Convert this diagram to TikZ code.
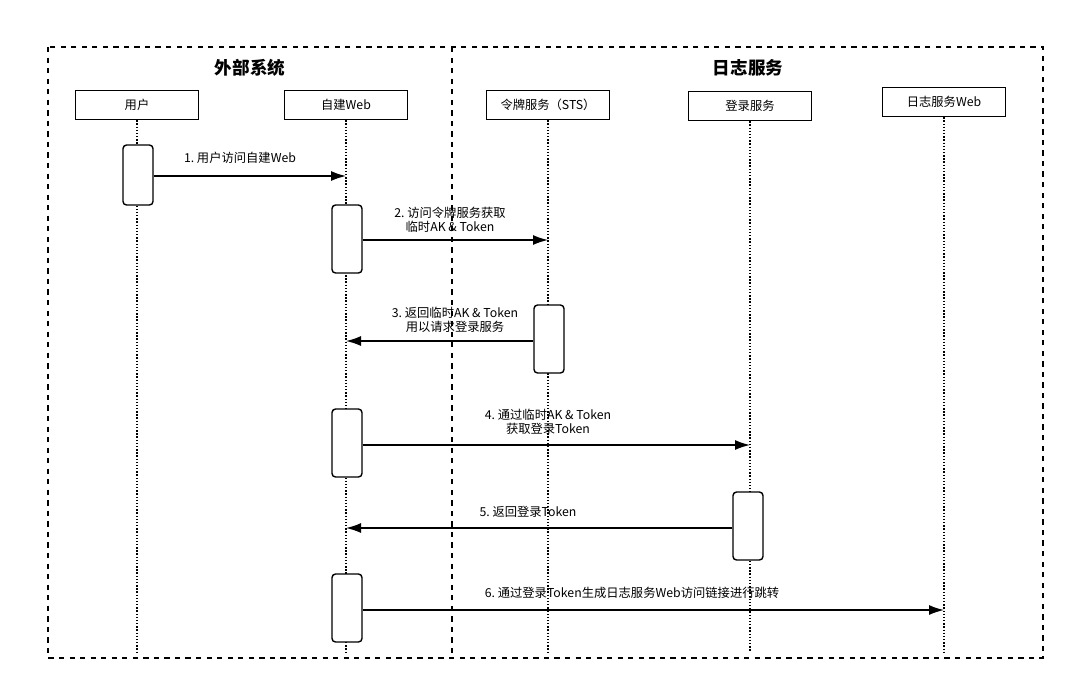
\documentclass[tikz,border=0pt]{standalone}
\usepackage{fontspec}
\setmainfont{Noto Sans CJK SC}
\newfontfamily\cjk{Noto Sans CJK SC}
\usetikzlibrary{arrows.meta,positioning}
\tikzset{
  head/.style={draw,thick,minimum width=2.46cm,minimum height=0.58cm,font=\scriptsize},
  act/.style={draw,thick,fill=white,rounded corners=2pt,minimum width=0.6cm},
  life/.style={densely dotted,thick},
  msg/.style={thick,-{Latex[length=3mm,width=2mm]}},
  lbl/.style={font=\scriptsize,align=center,inner sep=1pt}
}
\begin{document}
\begin{tikzpicture}[x=0.02cm,y=-0.02cm]
	\useasboundingbox (0,0) rectangle (1075,691);
	%frames
	\draw[thick,dashed] (48,47) rectangle (1043,658);
	\draw[thick,dashed] (452,47) -- (452,658);
	\node[font=\bfseries] (tA) at (250,68) {外部系统};
	\node[font=\bfseries] (tB) at (748,68) {日志服务};

	%heads
	\node[head] (user) at (137,105) {用户};
	\node[head] (web) at (346,105) {自建Web};
	\node[head] (sts) at (548,105) {令牌服务（STS）};
	\node[head] (login) at (750,106) {登录服务};
	\node[head] (logweb) at (944,102) {日志服务Web};

	%lifelines
	\draw[life] (user.south) -- (137,652);
	\draw[life] (web.south) -- (346,652);
	\draw[life] (sts.south) -- (548,652);
	\draw[life] (login.south) -- (750,652);
	\draw[life] (logweb.south) -- (944,652);

	%activations
	\node[act,minimum height=1.2cm] (a1) at (138,175) {};
	\node[act,minimum height=1.36cm] (a2) at (347,239) {};
	\node[act,minimum height=1.36cm] (a3) at (549,339) {};
	\node[act,minimum height=1.36cm] (a4) at (347,443) {};
	\node[act,minimum height=1.36cm] (a5) at (748,526) {};
	\node[act,minimum height=1.36cm] (a6) at (347,608) {};

	%messages
	\coordinate (e1) at (346,176);
	\coordinate (e2) at (548,240);
	\coordinate (e3) at (346,341);
	\coordinate (e4) at (750,445);
	\coordinate (e5) at (346,528);
	\coordinate (e6) at (944,610);
	\draw[msg] (a1.east |- e1) -- (e1);
	\draw[msg] (a2.east |- e2) -- (e2);
	\draw[msg] (a3.west |- e3) -- (e3);
	\draw[msg] (a4.east |- e4) -- (e4);
	\draw[msg] (a5.west |- e5) -- (e5);
	\draw[msg] (a6.east |- e6) -- (e6);

	%labels
	\node[lbl] (l1) at (240,158) {1.\ 用户访问自建Web};
	\node[lbl] (l2) at (450,220) {2.\ 访问令牌服务获取\\临时AK \& Token};
	\node[lbl] (l3) at (455,320) {3.\ 返回临时AK \& Token\\用以请求登录服务};
	\node[lbl] (l4) at (548,422) {4.\ 通过临时AK \& Token\\获取登录Token};
	\node[lbl] (l5) at (528,512) {5.\ 返回登录Token};
	\node[lbl] (l6) at (632,593) {6.\ 通过登录Token生成日志服务Web访问链接进行跳转};
\end{tikzpicture}
\end{document}
